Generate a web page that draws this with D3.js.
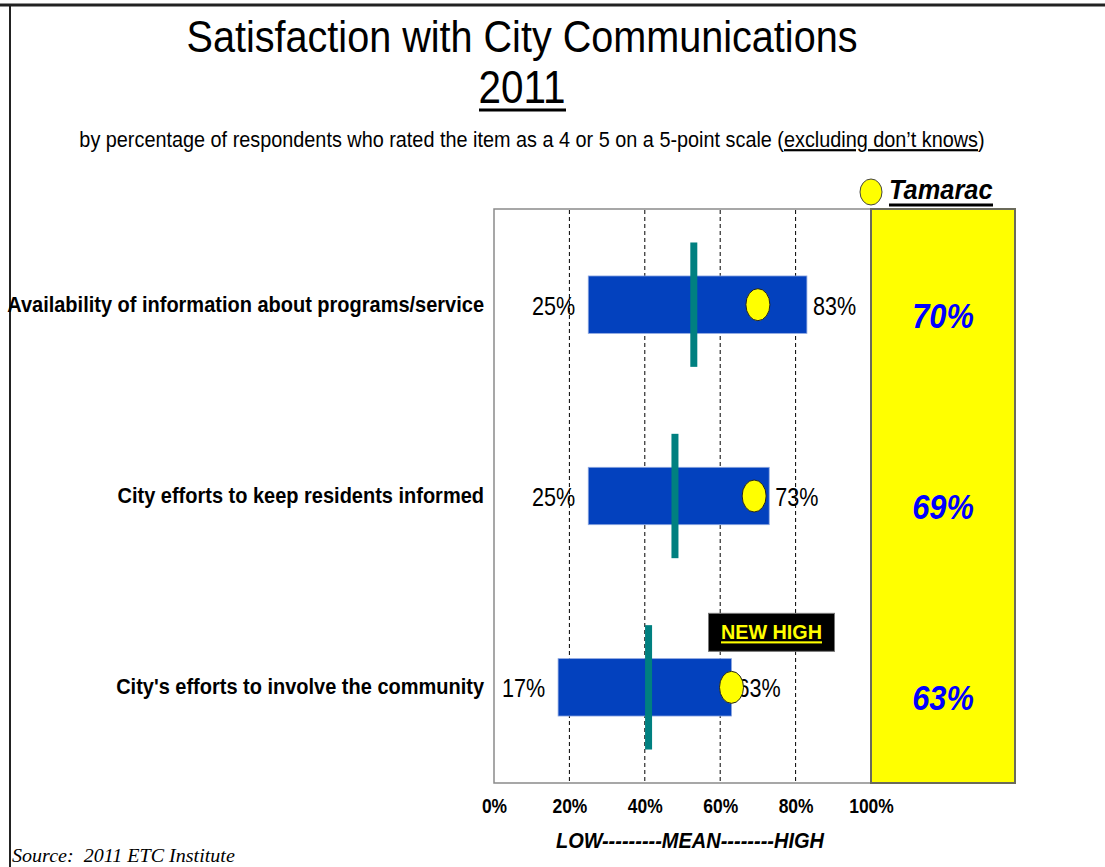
<!DOCTYPE html>
<html>
<head>
<meta charset="utf-8">
<script src="https://cdn.jsdelivr.net/npm/d3@7"></script>
<style>
  html, body { margin: 0; padding: 0; background: #fff; }
  svg { display: block; font-family: "Liberation Sans", Arial, sans-serif; }
</style>
</head>
<body>
<svg id="chart" width="1105" height="867"></svg>
<script>
// Survey items, top to bottom
const categories = [
  "Availability of information about programs/service",
  "City efforts to keep residents informed",
  "City's efforts to involve the community"
];
// Range of satisfaction across benchmark cities (percent)
const lowValues  = [25, 25, 17];
const highValues = [83, 73, 63];
// Benchmark mean (percent)
const meanValues = [53, 48, 41];
// Tamarac results (percent)
const tamaracValues = [70, 69, 63];
// Items flagged as a new high
const newHighFlags = [false, false, true];
// Axis tick values and labels
const tickValues = [0, 20, 40, 60, 80, 100];
const tickLabels = ["0%", "20%", "40%", "60%", "80%", "100%"];

const svg = d3.select("#chart");

// Plot geometry
const plotLeft = 494, plotRight = 871, plotTop = 209, plotBottom = 783;
const panelRight = 1015;
// Horizontal condensing applied to the narrow-looking labels
const condense = 0.83;

const x = d3.scaleLinear().domain([0, 100]).range([plotLeft, plotRight]);
const y = d3.scaleBand().domain(categories).range([plotTop, plotBottom]).padding(0);
const step = y.bandwidth();
const barH = step * 0.30;
const meanH = step * 0.65;
const cy = c => y(c) + step / 2;

// Squeeze a text group horizontally to a given width
function fitWidth(g, width) {
  const w = g.node().getBBox().width;
  const t = g.attr("transform") || "";
  g.attr("transform", t + ` scale(${width / w},1)`);
}

// Page frame lines
svg.append("line").attr("x1", 0).attr("x2", 1105).attr("y1", 5).attr("y2", 5)
  .attr("stroke", "#222").attr("stroke-width", 3);
svg.append("line").attr("x1", 10).attr("x2", 10).attr("y1", 5).attr("y2", 867)
  .attr("stroke", "#222").attr("stroke-width", 2);

// Title
const tg = svg.append("g").attr("transform", "translate(522,52)");
tg.append("text").attr("text-anchor", "middle").attr("font-size", 44)
  .attr("fill", "#000").text("Satisfaction with City Communications");
fitWidth(tg, 671);

const yg = svg.append("g").attr("transform", "translate(522,103)");
yg.append("text").attr("text-anchor", "middle").attr("font-size", 46)
  .attr("fill", "#000").text("2011");
fitWidth(yg, 87);
svg.append("line").attr("x1", 479).attr("x2", 566).attr("y1", 110).attr("y2", 110)
  .attr("stroke", "#000").attr("stroke-width", 3);

// Subtitle
const sg = svg.append("g").attr("transform", "translate(532,147)");
const st = sg.append("text").attr("text-anchor", "middle").attr("font-size", 22).attr("fill", "#000");
st.append("tspan").text("by percentage of respondents who rated the item as a 4 or 5 on a 5-point scale (");
st.append("tspan").attr("text-decoration", "underline").text("excluding don\u2019t knows");
st.append("tspan").text(")");
fitWidth(sg, 906);

// Plot frame
svg.append("rect").attr("x", plotLeft).attr("y", plotTop)
  .attr("width", plotRight - plotLeft).attr("height", plotBottom - plotTop)
  .attr("fill", "#fff").attr("stroke", "#8a8a8a").attr("stroke-width", 1.5);

// Tamarac panel
svg.append("rect").attr("x", plotRight).attr("y", plotTop)
  .attr("width", panelRight - plotRight).attr("height", plotBottom - plotTop)
  .attr("fill", "#FFFF00").attr("stroke", "#6b6b5a").attr("stroke-width", 2);

// Dashed gridlines
svg.append("g").selectAll("line")
  .data(tickValues.filter(v => v > 0 && v < 100))
  .join("line")
  .attr("x1", d => x(d)).attr("x2", d => x(d))
  .attr("y1", plotTop + 1).attr("y2", plotBottom - 1)
  .attr("stroke", "#000").attr("stroke-width", 1).attr("stroke-dasharray", "4,3");

// X axis
const xAxis = d3.axisBottom(x).tickValues(tickValues)
  .tickFormat((d, i) => tickLabels[i]).tickSize(0);
const ax = svg.append("g").attr("transform", `translate(0,${plotBottom})`).call(xAxis);
ax.select(".domain").remove();
ax.selectAll("text").attr("font-size", 21).attr("font-weight", "bold")
  .attr("font-family", "'Liberation Sans', Arial, sans-serif").attr("fill", "#000")
  .attr("y", 30).attr("dy", null)
  .attr("transform", `scale(${condense},1)`);

// Axis caption
const cg = svg.append("g").attr("transform", "translate(690,848)");
cg.append("text").attr("text-anchor", "middle").attr("font-size", 22)
  .attr("font-weight", "bold").attr("font-style", "italic").attr("fill", "#000")
  .text("LOW---------MEAN--------HIGH");
fitWidth(cg, 269);

// Rows built from the arrays
const rows = categories.map((c, i) => ({
  cat: c, low: lowValues[i], high: highValues[i], mean: meanValues[i],
  tam: tamaracValues[i], newHigh: newHighFlags[i]
}));

// Range bars
svg.append("g").selectAll("rect").data(rows).join("rect")
  .attr("x", d => x(d.low)).attr("y", d => cy(d.cat) - barH / 2)
  .attr("width", d => x(d.high) - x(d.low)).attr("height", barH)
  .attr("fill", "#0341BE").attr("stroke", "#8fa8e0").attr("stroke-width", 0.8);

// Mean markers
svg.append("g").selectAll("rect").data(rows).join("rect")
  .attr("x", d => x(d.mean) - 3.5).attr("y", d => cy(d.cat) - meanH / 2)
  .attr("width", 7).attr("height", meanH)
  .attr("fill", "#008080");

// Category labels
svg.append("g").selectAll("text").data(rows).join("text")
  .attr("transform", d => `translate(484,${cy(d.cat) + 7}) scale(0.93,1)`)
  .attr("text-anchor", "end").attr("font-size", 21.5).attr("font-weight", "bold")
  .attr("fill", "#000").text(d => d.cat);

// Low and high labels
svg.append("g").selectAll("text").data(rows).join("text")
  .attr("transform", d => `translate(${x(d.low) - 13},${cy(d.cat) + 10}) scale(${condense},1)`)
  .attr("text-anchor", "end").attr("font-size", 26).attr("fill", "#000")
  .text(d => d.low + "%");
svg.append("g").selectAll("text").data(rows).join("text")
  .attr("transform", d => `translate(${x(d.high) + 6},${cy(d.cat) + 10}) scale(${condense},1)`)
  .attr("text-anchor", "start").attr("font-size", 26).attr("fill", "#000")
  .text(d => d.high + "%");

// Tamarac markers
svg.append("g").selectAll("ellipse").data(rows).join("ellipse")
  .attr("cx", d => x(d.tam)).attr("cy", d => cy(d.cat))
  .attr("rx", 12).attr("ry", 16)
  .attr("fill", "#FFFF00").attr("stroke", "#222").attr("stroke-width", 1);

// Tamarac values in panel
svg.append("g").selectAll("text").data(rows).join("text")
  .attr("transform", d => `translate(${(plotRight + panelRight) / 2},${cy(d.cat) + 23}) scale(0.88,1)`)
  .attr("text-anchor", "middle").attr("font-size", 35)
  .attr("font-weight", "bold").attr("font-style", "italic").attr("fill", "#0000FF")
  .text(d => d.tam + "%");

// New high badge
const nh = rows.filter(d => d.newHigh);
const badge = svg.append("g").selectAll("g").data(nh).join("g");
badge.append("rect")
  .attr("x", d => x(d.high) - 23).attr("y", d => cy(d.cat) - 74)
  .attr("width", 126).attr("height", 38)
  .attr("fill", "#000").attr("stroke", "#777").attr("stroke-width", 1);
badge.append("text")
  .attr("x", d => x(d.high) + 40).attr("y", d => cy(d.cat) - 48)
  .attr("text-anchor", "middle").attr("font-size", 21).attr("font-weight", "bold")
  .attr("fill", "#FFFF00").attr("text-decoration", "underline")
  .attr("textLength", 101).attr("lengthAdjust", "spacingAndGlyphs")
  .text("NEW HIGH");

// Legend
svg.append("ellipse").attr("cx", 871).attr("cy", 192).attr("rx", 11).attr("ry", 13)
  .attr("fill", "#FFFF00").attr("stroke", "#444").attr("stroke-width", 1);
const lg = svg.append("g").attr("transform", "translate(889,199)");
lg.append("text").attr("font-size", 28).attr("font-weight", "bold").attr("font-style", "italic")
  .attr("fill", "#000").text("Tamarac");
fitWidth(lg, 104);
svg.append("line").attr("x1", 889).attr("x2", 993).attr("y1", 205).attr("y2", 205)
  .attr("stroke", "#000").attr("stroke-width", 3);

// Source note
const srcg = svg.append("g").attr("transform", "translate(12,862)");
srcg.append("text").attr("font-family", "'Liberation Serif', 'Times New Roman', serif")
  .attr("font-style", "italic").attr("font-size", 18).attr("fill", "#000")
  .style("white-space", "pre").text("Source:  2011 ETC Institute");
fitWidth(srcg, 223);
</script>
</body>
</html>
